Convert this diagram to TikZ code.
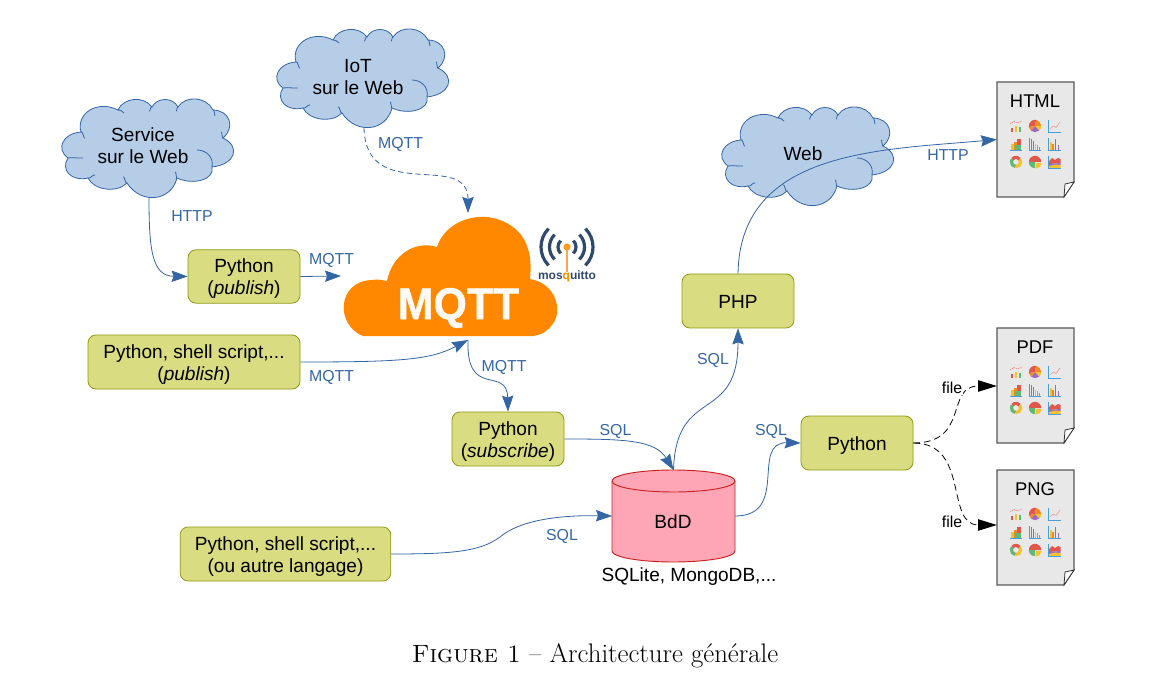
\documentclass[tikz,border=0pt]{standalone}
\usepackage{fontspec}
\newfontfamily\dia{Liberation Sans}
\usetikzlibrary{arrows.meta}
\definecolor{lnblue}{HTML}{3465A4}
\definecolor{cloudfill}{HTML}{B6CDE8}
\definecolor{boxfill}{HTML}{D9DC80}
\definecolor{boxline}{HTML}{8F9A10}
\definecolor{mqttor}{HTML}{FF8800}
\definecolor{dbfill}{HTML}{FFA6B6}
\definecolor{dbline}{HTML}{C9211E}
\definecolor{mosqblue}{HTML}{2F4A6D}
\definecolor{docfill}{HTML}{E8E8E8}
\definecolor{ired}{HTML}{E2574C}
\definecolor{iyel}{HTML}{F2C230}
\definecolor{igre}{HTML}{5FB878}
\definecolor{iblu}{HTML}{4A9BD8}
\definecolor{iora}{HTML}{F08A24}
\definecolor{ipur}{HTML}{9A6BC0}
\tikzset{
  x=0.75pt,y=-0.75pt,
  flowbox/.style={draw=boxline,fill=boxfill,rounded corners=6pt,line width=0.6pt,inner sep=0pt,align=center,font=\dia\fontsize{14.3}{16.5}\selectfont},
  cloudtext/.style={align=center,inner sep=0pt,font=\dia\fontsize{14.3}{16.5}\selectfont},
  cloudshape/.style={draw=lnblue,fill=cloudfill,line width=0.6pt},
  cloudinner/.style={draw=lnblue,line width=0.6pt},
  wire/.style={draw=lnblue,line width=0.6pt,-{Stealth[length=12pt,width=8.5pt,inset=1.5pt]}},
  wiredash/.style={wire,dash pattern=on 4pt off 2.5pt},
  filewire/.style={draw=black,line width=0.6pt,dash pattern=on 5pt off 3pt,-{Triangle[length=14pt,width=8.5pt]}},
  bluelabel/.style={text=lnblue,inner sep=0pt,font=\dia\fontsize{11.9}{14}\selectfont},
  filelabel/.style={text=black,inner sep=0pt,font=\dia\fontsize{11.9}{14}\selectfont},
  dbtext/.style={inner sep=0pt,font=\dia\fontsize{14.3}{16.5}\selectfont},
  doctitle/.style={inner sep=0pt,font=\dia\fontsize{13.8}{16}\selectfont},
  anchorbox/.style={inner sep=0pt,outer sep=0pt},
}
\newcommand{\lowr}[1]{\raisebox{-2.1pt}[\height][\depth]{\begin{tabular}{@{}c@{}}#1\end{tabular}}}
% a cubic bump from P through M to Q
\tikzset{bump/.style n args={6}{insert path={
  .. controls ({(8*#3-#1-#5)/6-(#5-#1)*.3},{(8*#4-#2-#6)/6-(#6-#2)*.3})
  and ({(8*#3-#1-#5)/6+(#5-#1)*.3},{(8*#4-#2-#6)/6+(#6-#2)*.3}) .. (#5,#6)}}}
\newcommand{\mycloud}[2]{%
\begin{scope}[shift={(#1,#2)}]
\path[cloudshape] (81,132)
  [bump={81}{132}{90}{110}{118}{110}]
  [bump={118}{110}{134}{99.5}{152}{107}]
  [bump={152}{107}{165}{99.5}{178}{107}]
  [bump={178}{107}{196}{99}{213}{110}]
  [bump={213}{110}{229}{120}{223}{138}]
  [bump={223}{138}{233}{155}{212}{167}]
  [bump={212}{167}{202}{180}{177}{178}]
  [bump={177}{178}{155}{197.5}{127}{183}]
  [bump={127}{183}{106}{189}{88}{178}]
  [bump={88}{178}{69}{174}{68}{158}]
  [bump={68}{158}{63}{142}{81}{132}] -- cycle;
\draw[cloudinner] (81,132) to[out=50,in=-110] (85,138);
\draw[cloudinner] (68,158) to[out=10,in=185] (83,158);
\draw[cloudinner] (118,110) to[out=20,in=150] (124,113);
\draw[cloudinner] (152,107) to[out=130,in=-60] (149,111);
\draw[cloudinner] (178,107) to[out=130,in=-60] (176,111);
\draw[cloudinner] (213,110) to[out=60,in=-90] (215,116);
\draw[cloudinner] (223,138) to[out=-110,in=70] (221,132);
\draw[cloudinner] (197,150) .. controls (206,150) and (214,157) .. (212,167);
\draw[cloudinner] (177,178) to[out=-100,in=70] (175,172);
\draw[cloudinner] (127,183) to[out=-120,in=60] (123,177);
\draw[cloudinner] (88,178) to[out=-20,in=170] (95,175);
\end{scope}}
\newcommand{\icbar}[5]{\fill[#5] (#1,#2) rectangle (#3,#4);}
\newcommand{\icpie}[6]{\fill[#6] (#1,#2) -- ++(#4:#3) arc[start angle=#4,end angle=#5,radius=#3] -- cycle;}
\newcommand{\chartgrid}[2]{%
\begin{scope}[shift={(#1,#2)}]
% row 1
\icbar{0.5}{8}{2.5}{12}{ired}\icbar{4.5}{6}{6.5}{12}{iyel}\icbar{8.5}{7}{10.5}{12}{igre}
\draw[ired!70,line width=0.5pt,dash pattern=on 1pt off .6pt] (0,4)--(4,1.5)--(7.5,3)--(12,1);
\icpie{25}{6}{6.2}{170}{280}{ired}
\icpie{25}{6}{6.2}{280}{360}{iora}
\icpie{25}{6}{6.2}{0}{50}{iyel}
\icpie{25}{6}{6.2}{50}{130}{ipur}
\icpie{25}{6}{6.2}{130}{170}{iora}
\draw[iblu,line width=0.7pt] (38.5,0)--(38.5,12)--(50.5,12);
\draw[ired!60,line width=0.5pt] (40,9)--(43,6)--(46,7.5)--(50,2);
% row 2
\icbar{1}{24}{4}{30}{iyel}\icbar{4}{22}{7}{30}{iora}\icbar{7}{19}{10.5}{30}{ired}\icbar{5}{25}{10.5}{30}{igre}
\draw[iblu,line width=0.7pt] (0,30.2)--(12,30.2);
\draw[iblu,line width=0.7pt] (19,18)--(19,30)--(31,30);
\icbar{20.5}{19}{22}{30}{ipur}\icbar{22.5}{21}{24}{30}{ired}\icbar{24.5}{24}{26}{30}{iyel}\icbar{26.5}{25}{28}{30}{iora}\icbar{28.5}{27}{30}{30}{igre}
\draw[iblu,line width=0.7pt] (38.5,18)--(38.5,30)--(50.5,30);
\icbar{40}{22}{41.5}{30}{iyel}\icbar{42}{24}{43.5}{30}{iora}\icbar{44.5}{19}{46}{30}{ired}\icbar{47.5}{25}{49}{30}{ipur}
% row 3
\draw[iyel,line width=2.4pt] (6,42) ++(-40:4.6) arc[start angle=-40,end angle=100,radius=4.6];
\draw[igre,line width=2.4pt] (6,42) ++(100:4.6) arc[start angle=100,end angle=220,radius=4.6];
\draw[ired,line width=2.4pt] (6,42) ++(220:4.6) arc[start angle=220,end angle=320,radius=4.6];
\icpie{25}{42}{6.2}{180}{360}{ired}
\icpie{25}{42}{6.2}{90}{180}{igre}
\icpie{26}{43}{5.6}{0}{90}{iyel}
\fill[ired] (39,41) -- (42,38) -- (45,40) -- (48,38) -- (50.5,39) -- (50.5,43) -- (39,44) -- cycle;
\fill[ipur] (39,44) -- (50.5,43) -- (50.5,45) -- (39,46) -- cycle;
\fill[iyel] (39,46) -- (45,44.5) -- (50.5,45) -- (50.5,48) -- (39,48) -- cycle;
\draw[iblu,line width=0.7pt] (38.5,36)--(38.5,48)--(50.5,48);
\end{scope}}
\newcommand{\docsheet}[3]{%
\path[draw=black!65,fill=docfill,line width=0.8pt] (997,#1) -- (1074,#1) -- (1074,#1+100) -- (1064,#1+115) -- (997,#1+115) -- cycle;
\path[draw=black!80,fill=white,line width=0.6pt] (1074,#1+100) -- (1065,#1+102) -- (1064,#1+115) -- cycle;
\node[anchorbox,minimum width=58pt,minimum height=86pt] (#2) at (1035.5,#1+57.5) {};
\node[doctitle] (#2title) at (1035,#1+19.5) {#3};
\chartgrid{1010}{#1+38}}
\begin{document}
\begin{tikzpicture}
\useasboundingbox (0,0) rectangle (1166,691);
\fill[white] (0,0) rectangle (1166,691);
% clouds
\mycloud{0}{0}
\mycloud{215}{-70}
\mycloud{660}{8}
\node[cloudtext] (svc) at (143,145.5) {Service\\sur le Web};
\node[cloudtext] (iot) at (358,77) {IoT\\sur le Web};
\node[cloudtext] (web) at (803,153.5) {Web};
\coordinate (svcS) at (149,198);
\coordinate (iotS) at (364,128);
% MQTT cloud
\path[fill=mqttor] (363,336) .. controls (335,325) and (337,281) .. (372,280)
  .. controls (377,279) and (382,280) .. (387,281)
  .. controls (392,255) and (415,240) .. (437,247)
  .. controls (445,222) and (475,212) .. (497,219)
  .. controls (525,228) and (533,250) .. (530,279)
  .. controls (555,283) and (564,310) .. (552,325)
  .. controls (548,331) and (541,335) .. (533,336) -- cycle;
\node[inner sep=0pt,text=white!96!mqttor,font=\dia\bfseries\fontsize{33.5}{40}\selectfont\addfontfeatures{FakeBold=1},xscale=0.96] (mqtt) at (458.5,308) {MQTT};
\coordinate (mqttL) at (341,276);
\coordinate (mqttB) at (468,340);
\coordinate (mqttT) at (468,213);
% mosquitto logo
\foreach \r in {9,17.5,26}{
 \draw[mosqblue,line width=2.4pt] (567,247) ++(225:\r) arc[start angle=225,end angle=135,radius=\r];
 \draw[mosqblue,line width=2.4pt] (567,247) ++(-45:\r) arc[start angle=-45,end angle=45,radius=\r];
}
\draw[mqttor!75!white,line width=0.9pt] (567,247) -- (567,272);
\fill[mqttor!85!white] (567,247) circle[radius=3.6];
\node[inner sep=0pt,text=mosqblue,font=\dia\bfseries\fontsize{9}{10}\selectfont] (mosq) at (567,276.5) {mos\textcolor{mqttor}{q}uitto};
% boxes
\node[flowbox,minimum width=84pt,minimum height=40pt] (pub) at (244,276.5) {\lowr{Python\\(\textit{publish})}};
\node[flowbox,minimum width=159pt,minimum height=40.5pt] (shpub) at (194,362) {\lowr{Python, shell script,...\\(\textit{publish})}};
\node[flowbox,minimum width=84pt,minimum height=40.5pt] (sub) at (508,439) {\lowr{Python\\(\textit{subscribe})}};
\node[flowbox,minimum width=84pt,minimum height=40.5pt] (php) at (738,301) {\lowr{PHP}};
\node[flowbox,minimum width=84pt,minimum height=40.5pt] (py) at (857,443) {\lowr{Python}};
\node[flowbox,minimum width=158pt,minimum height=40.5pt] (shdb) at (285.5,554) {\lowr{Python, shell script,...\\(ou autre langage)}};
% database
\path[draw=dbline,fill=dbfill,line width=0.7pt] (612,481) -- (612,551) arc[start angle=180,end angle=0,x radius=61.5,y radius=11] -- (735,481) arc[start angle=0,end angle=-180,x radius=61.5,y radius=11] -- cycle;
\draw[dbline,line width=0.7pt] (612,481) arc[start angle=180,end angle=0,x radius=61.5,y radius=11];
\node[anchorbox,minimum width=92.25pt,minimum height=69pt] (db) at (673.5,516) {};
\node[dbtext] (dbt) at (673,522) {BdD};
\node[dbtext] (dbcap) at (689,577) {SQLite, MongoDB,...};
% documents
\docsheet{82}{html}{HTML}
\docsheet{328}{pdf}{PDF}
\docsheet{470}{png}{PNG}
% connectors
\draw[wire] (svcS) .. controls (149,250) and (152,276) .. (pub.west);
\draw[wire] (pub.east) -- (mqttL);
\draw[wire] (shpub.east) .. controls (400,362) and (430,360) .. (mqttB);
\draw[wire] (mqttB) .. controls (466,400) and (507,365) .. (sub.north);
\draw[wiredash] (iotS) .. controls (366,205) and (468,150) .. (mqttT);
\draw[wire] (sub.east) .. controls (625,439) and (655,440) .. (db.north);
\draw[wire] (db.north) .. controls (676,385) and (738,425) .. (php.south);
\draw[wire] (php.north) .. controls (740,150) and (880,150) .. (html.west);
\draw[wire] (db.east) .. controls (790,516) and (750,442) .. (py.west);
\draw[wire] (shdb.east) .. controls (450,554) and (480,552) .. (500,537) .. controls (520,520) and (560,515) .. (db.west);
\draw[filewire] (py.east) .. controls (970,443) and (945,386) .. (pdf.west |- 0,386);
\draw[filewire] (py.east) .. controls (970,443) and (945,525) .. (png.west |- 0,525);
% labels
\node[bluelabel] (l1) at (192,216) {HTTP};
\node[bluelabel] (l2) at (331.5,260) {MQTT};
\node[bluelabel] (l3) at (331.5,377) {MQTT};
\node[bluelabel] (l4) at (400.5,144) {MQTT};
\node[bluelabel] (l5) at (504,367) {MQTT};
\node[bluelabel] (l6) at (615.5,431) {SQL};
\node[bluelabel] (l7) at (713,360) {SQL};
\node[bluelabel] (l8) at (771,431) {SQL};
\node[bluelabel] (l9) at (562,536) {SQL};
\node[bluelabel] (l10) at (948,155) {HTTP};
\node[filelabel,fill=white,inner sep=1pt] (f1) at (952,388) {file};
\node[filelabel,fill=white,inner sep=1pt] (f2) at (952,522) {file};
% caption
\node[inner sep=0pt,font=\fontsize{20.1}{22}\selectfont] (cap) at (595,656) {{\fontsize{18.8}{22}\selectfont\textsc{Figure 1}} -- Architecture générale};
\end{tikzpicture}
\end{document}
